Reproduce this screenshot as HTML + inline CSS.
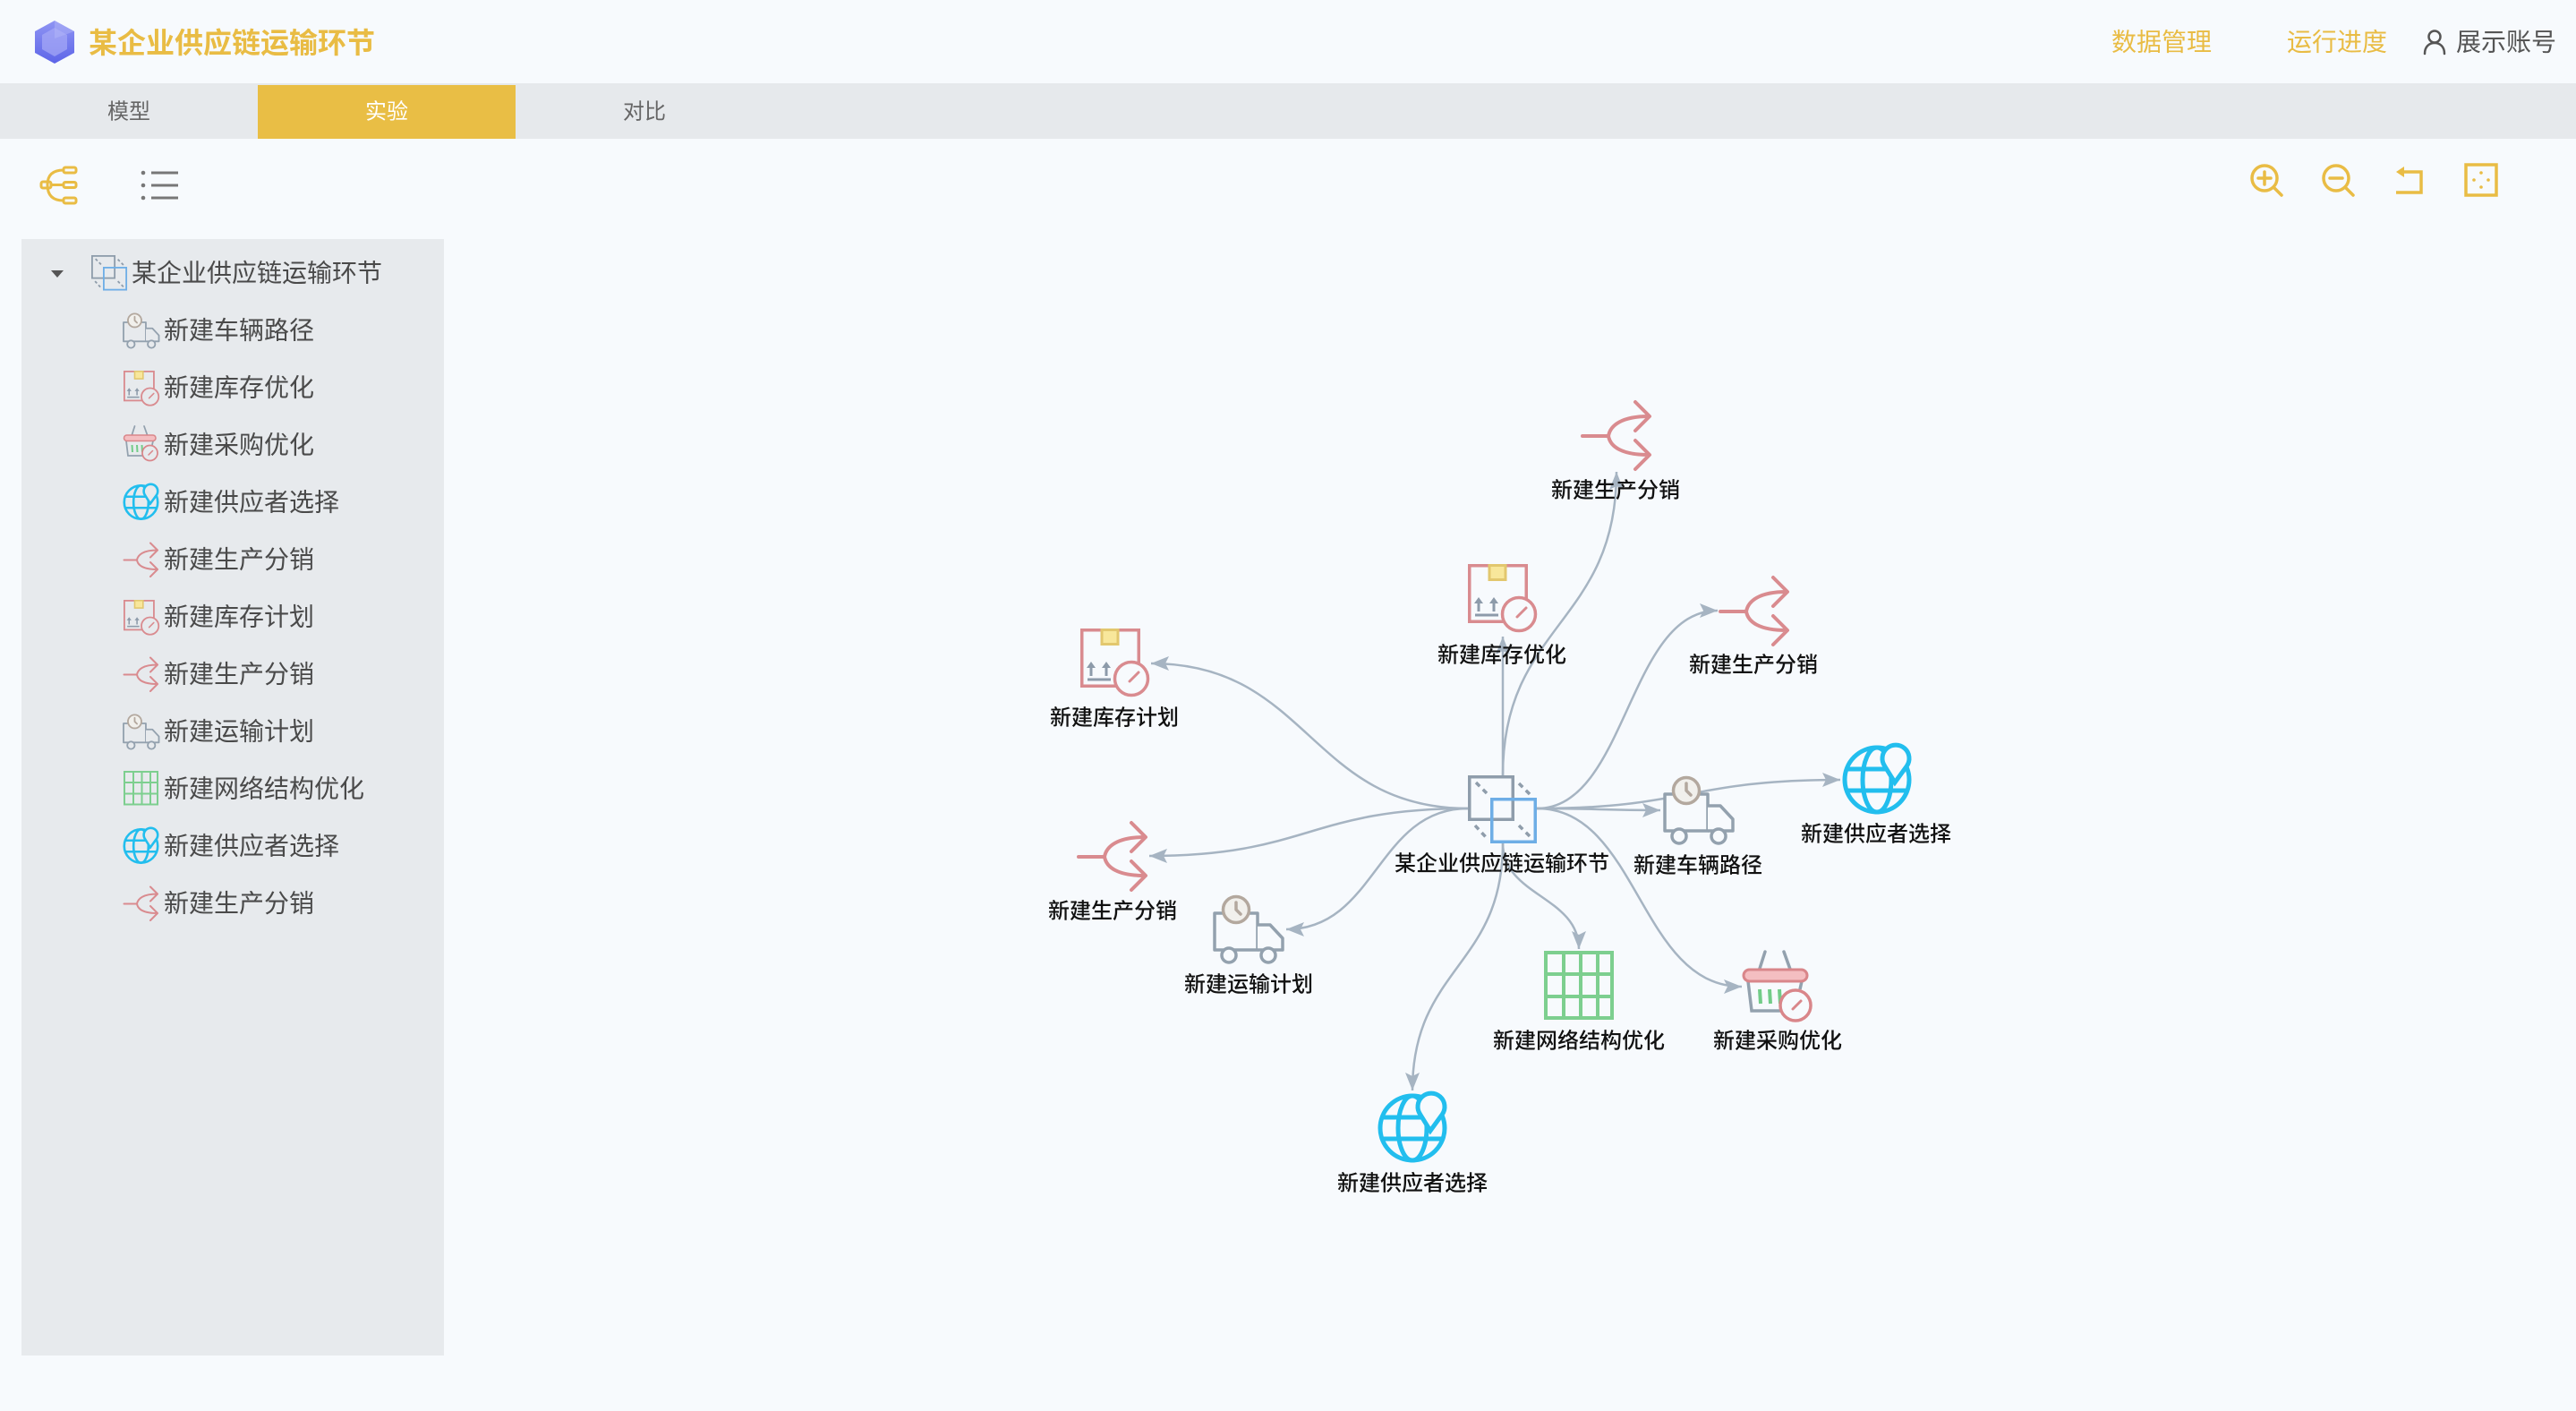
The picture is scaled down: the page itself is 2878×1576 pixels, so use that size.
<!DOCTYPE html>
<html><head><meta charset="utf-8">
<style>
html,body{margin:0;padding:0;background:#F7FAFD;}
svg{display:block}
.bgf{fill:var(--bg,#F7FAFD)}
</style></head><body>
<svg xmlns="http://www.w3.org/2000/svg" width="2878" height="1576" viewBox="0 0 2878 1576" font-family="'Liberation Sans','Noto Sans CJK SC',sans-serif">
<defs>
  <marker id="ah" markerUnits="userSpaceOnUse" markerWidth="22" markerHeight="18" viewBox="0 -9 22 18" refX="20" refY="0" orient="auto">
    <path d="M0,-8 L20,0 L0,8 L4,0 Z" fill="#A6B4C2"/>
  </marker>
  <linearGradient id="gem" x1="0" y1="0" x2="0" y2="1">
    <stop offset="0" stop-color="#8F95F3"/><stop offset="1" stop-color="#5D65E8"/>
  </linearGradient>

  <g id="fork" fill="none" stroke="#D98B8F" stroke-width="4" stroke-linecap="round" stroke-linejoin="round">
    <path d="M1,39 H30 M30,39 C32,27 45,17 75,17 M30,39 C32,51 45,60 75,60 M60,1 L76,17 L60,33 M60,44 L76,60 L60,76"/>
  </g>

  <g id="box">
    <rect x="1.75" y="1.75" width="63.5" height="62.5" fill="none" stroke="#D98B8F" stroke-width="3.5"/>
    <rect x="24" y="1.5" width="18" height="16" fill="#F8E79B" stroke="#E2C76E" stroke-width="3"/>
    <path d="M12,53 V43 M29,53 V43" stroke="#8D9BAA" stroke-width="3" fill="none"/>
    <path d="M12,37 L7,44 H17 Z M29,37 L24,44 H34 Z" fill="#8D9BAA"/>
    <path d="M8,57 H34" stroke="#8D9BAA" stroke-width="3" fill="none"/>
    <circle cx="57" cy="56" r="18.5" class="bgf" stroke="#D98B8F" stroke-width="3.5"/>
    <path d="M55,59 L65,49" stroke="#D98B8F" stroke-width="3" stroke-linecap="round"/>
  </g>

  <g id="truck" fill="none" stroke="#93A1AE" stroke-width="3.5" stroke-linejoin="round">
    <rect x="0" y="0" width="48" height="41" class="bgf"/>
    <path d="M48,13 H62 L76,28 V41 H48" class="bgf"/>
    <circle cx="16" cy="47" r="8" class="bgf"/>
    <circle cx="60" cy="47" r="8" class="bgf"/>
    <circle cx="24" cy="-4" r="14.5" fill="#F1F0EC" stroke="#B3A89E"/>
    <path d="M24,-12 V-4 L29,1" stroke="#B3A89E" stroke-linecap="round"/>
  </g>

  <g id="globe" fill="none" stroke="#22BEEE" stroke-width="5">
    <circle r="36"/>
    <ellipse rx="16" ry="36"/>
    <path d="M-34,-12 H34 M-34,12 H34"/>
    <path d="M20,3 L8.7,-15.3 A15,15 0 1,1 33.3,-15.3 Z" class="bgf"/>
  </g>

  <g id="grid" fill="none" stroke="#7DCF8F" stroke-width="4">
    <rect x="2" y="2" width="74" height="73"/>
    <path d="M22,2 V75 M41,2 V75 M60,2 V75 M2,26 H76 M2,51 H76"/>
  </g>

  <g id="basket">
    <path d="M25,-20 L17,5 M46,-20 L55,5" stroke="#93A1AE" stroke-width="3.5" stroke-linecap="round" fill="none"/>
    <path d="M6,13 L10,46 H54 M66,13 L64,22" stroke="#93A1AE" stroke-width="3.5" fill="none"/>
    <path d="M19,22 L20,38 M30,22 L31,38 M41,22 L42,38" stroke="#72CC88" stroke-width="4" fill="none"/>
    <rect x="1" y="0" width="71" height="13" rx="6.5" fill="#F4BEC1" stroke="#D9868A" stroke-width="3"/>
    <circle cx="59" cy="40" r="17" class="bgf" stroke="#D9868A" stroke-width="3.5"/>
    <path d="M56,44 L65,35" stroke="#D9868A" stroke-width="3" stroke-linecap="round"/>
  </g>

  <g id="cube" fill="none" stroke-width="3.5">
    <rect x="1.75" y="1.75" width="48.5" height="47.5" stroke="#8F9DAB" class="bgf"/>
    <rect x="26.75" y="26.75" width="48.5" height="47.5" stroke="#6EAEE6"/>
    <path d="M9,8 L23,22 M57,9 L70,22 M8,56 L20,69 M57,56 L70,69" stroke="#8F9DAB" stroke-dasharray="6 5"/>
  </g>
</defs>

<!-- page background -->
<rect x="0" y="0" width="2878" height="1576" fill="#F7FAFD"/>

<!-- header -->
<polygon points="61,23 83,35 83,59 61,71 39,59 39,35" fill="url(#gem)"/>
<polygon points="61,31 75,39 75,55 61,63 47,55 47,39" fill="#A6AAF6" opacity="0.7"/>
<polygon points="61,23 83,35 61,43" fill="#B2B6F8" opacity="0.5"/>
<text x="99" y="48" font-size="32" font-weight="bold" fill="#E9BC44" dominant-baseline="central">某企业供应链运输环节</text>

<text x="2359" y="47" font-size="28" fill="#E9BC44" dominant-baseline="central">数据管理</text>
<text x="2555" y="47" font-size="28" fill="#E9BC44" dominant-baseline="central">运行进度</text>
<g fill="none" stroke="#555" stroke-width="2.5" stroke-linecap="round">
  <circle cx="2720" cy="41" r="6.5"/>
  <path d="M2709,60 C2709,52 2714,48 2720,48 C2726,48 2731,52 2731,60"/>
</g>
<text x="2744" y="47" font-size="28" fill="#555" dominant-baseline="central">展示账号</text>

<!-- tabs -->
<rect x="0" y="93" width="2878" height="62" fill="#E6E9EC"/>
<rect x="288" y="95" width="288" height="60" fill="#E9BE45"/>
<text x="144" y="125" font-size="24" fill="#666" text-anchor="middle" dominant-baseline="central">模型</text>
<text x="432" y="125" font-size="24" fill="#fff" text-anchor="middle" dominant-baseline="central">实验</text>
<text x="720" y="125" font-size="24" fill="#666" text-anchor="middle" dominant-baseline="central">对比</text>

<!-- left toolbar -->
<g fill="none" stroke="#E9BC44" stroke-width="3">
  <rect x="46" y="203" width="11" height="7" rx="2"/>
  <rect x="71" y="187" width="14" height="6" rx="2"/>
  <rect x="71" y="203.5" width="14" height="6" rx="2"/>
  <rect x="71" y="221" width="14" height="6" rx="2"/>
  <path d="M71,190 Q53,190 53,206.5 Q53,224 71,224 M57,206.5 H71"/>
</g>
<g fill="#777"><circle cx="160" cy="193" r="2.3"/><circle cx="160" cy="207" r="2.3"/><circle cx="160" cy="221" r="2.3"/></g>
<path d="M169,193 H199 M169,207 H199 M169,221 H199" stroke="#777" stroke-width="3"/>

<!-- right toolbar -->
<g fill="none" stroke="#E9BC44" stroke-width="3.5" stroke-linecap="round">
  <circle cx="2530" cy="199" r="14"/>
  <path d="M2530,192 V206 M2523,199 H2537 M2540,209 L2549,218"/>
  <circle cx="2610" cy="199" r="14"/>
  <path d="M2603,199 H2617 M2620,209 L2629,218"/>
  <path d="M2684,192 H2705 V215 H2677" stroke-linecap="butt"/>
  <rect x="2755" y="184" width="34" height="34" stroke-linecap="butt"/>
</g>
<path d="M2677,192 L2686,186 L2686,198 Z" fill="#E9BC44"/>
<g fill="#E9BC44"><circle cx="2772" cy="193" r="1.8"/><circle cx="2772" cy="209" r="1.8"/><circle cx="2764" cy="201" r="1.8"/><circle cx="2780" cy="201" r="1.8"/></g>

<!-- sidebar -->
<rect x="24" y="267" width="472" height="1247" fill="#E7EAED"/>
<g style="--bg:#E7EAED">
  <path d="M57,302 L71,302 L64,310 Z" fill="#555"/>
  <use href="#cube" transform="translate(102,285) scale(0.52)"/>
  <text x="147" y="305" font-size="28" fill="#4a4a4a" dominant-baseline="central">某企业供应链运输环节</text>

  <use href="#truck" transform="translate(138,360) scale(0.52)"/>
  <text x="183" y="369" font-size="28" fill="#4a4a4a" dominant-baseline="central">新建车辆路径</text>

  <use href="#box" transform="translate(138,414) scale(0.52)"/>
  <text x="183" y="433" font-size="28" fill="#4a4a4a" dominant-baseline="central">新建库存优化</text>

  <use href="#basket" transform="translate(138,486) scale(0.5)"/>
  <text x="183" y="497" font-size="28" fill="#4a4a4a" dominant-baseline="central">新建采购优化</text>

  <use href="#globe" transform="translate(157.5,561) scale(0.52)"/>
  <text x="183" y="561" font-size="28" fill="#4a4a4a" dominant-baseline="central">新建供应者选择</text>

  <use href="#fork" transform="translate(138,606) scale(0.5)"/>
  <text x="183" y="625" font-size="28" fill="#4a4a4a" dominant-baseline="central">新建生产分销</text>

  <use href="#box" transform="translate(138,670) scale(0.52)"/>
  <text x="183" y="689" font-size="28" fill="#4a4a4a" dominant-baseline="central">新建库存计划</text>

  <use href="#fork" transform="translate(138,734) scale(0.5)"/>
  <text x="183" y="753" font-size="28" fill="#4a4a4a" dominant-baseline="central">新建生产分销</text>

  <use href="#truck" transform="translate(138,808) scale(0.52)"/>
  <text x="183" y="817" font-size="28" fill="#4a4a4a" dominant-baseline="central">新建运输计划</text>

  <use href="#grid" transform="translate(138,861) scale(0.5)"/>
  <text x="183" y="881" font-size="28" fill="#4a4a4a" dominant-baseline="central">新建网络结构优化</text>

  <use href="#globe" transform="translate(157.5,945) scale(0.52)"/>
  <text x="183" y="945" font-size="28" fill="#4a4a4a" dominant-baseline="central">新建供应者选择</text>

  <use href="#fork" transform="translate(138,990) scale(0.5)"/>
  <text x="183" y="1009" font-size="28" fill="#4a4a4a" dominant-baseline="central">新建生产分销</text>
</g>

<!-- edges -->
<g fill="none" stroke="#A6B4C2" stroke-width="2.5" marker-end="url(#ah)">
  <path d="M1640,903 C1463,903 1463,741 1286,741"/>
  <path d="M1679,866 L1679,711"/>
  <path d="M1679,866 C1679,697 1806,697 1806,527"/>
  <path d="M1717,903 C1818,903 1818,682 1919,682"/>
  <path d="M1717,903 C1786,903 1786,905 1855,905"/>
  <path d="M1717,903 C1886,903 1886,871 2056,871"/>
  <path d="M1717,903 C1831,903 1831,1102 1946,1102"/>
  <path d="M1679,942 C1679,1001 1764,1001 1764,1060"/>
  <path d="M1679,942 C1679,1080 1578,1080 1578,1218"/>
  <path d="M1640,903 C1462,903 1462,956 1284,956"/>
  <path d="M1640,903 C1538,903 1538,1038 1437,1038"/>
</g>

<!-- nodes -->
<use href="#cube" transform="translate(1640,866)"/>
<use href="#box" transform="translate(1640,630)"/>
<use href="#fork" transform="translate(1767,448)"/>
<use href="#fork" transform="translate(1921,644)"/>
<use href="#box" transform="translate(1207,702)"/>
<use href="#fork" transform="translate(1204,918)"/>
<use href="#truck" transform="translate(1357,1020)"/>
<use href="#truck" transform="translate(1860,887)"/>
<use href="#globe" transform="translate(2097,871)"/>
<use href="#grid" transform="translate(1725,1062)"/>
<use href="#basket" transform="translate(1947,1083)"/>
<use href="#globe" transform="translate(1578,1260)"/>

<!-- labels -->
<g font-size="24" font-weight="500" fill="#111" text-anchor="middle" dominant-baseline="central">
  <text x="1678" y="965">某企业供应链运输环节</text>
  <text x="1678" y="732">新建库存优化</text>
  <text x="1805" y="548">新建生产分销</text>
  <text x="1959" y="743">新建生产分销</text>
  <text x="1245" y="802">新建库存计划</text>
  <text x="1243" y="1018">新建生产分销</text>
  <text x="1395" y="1100">新建运输计划</text>
  <text x="1897" y="967">新建车辆路径</text>
  <text x="2096" y="932">新建供应者选择</text>
  <text x="1764" y="1163">新建网络结构优化</text>
  <text x="1986" y="1163">新建采购优化</text>
  <text x="1578" y="1322">新建供应者选择</text>
</g>
</svg>
</body></html>
